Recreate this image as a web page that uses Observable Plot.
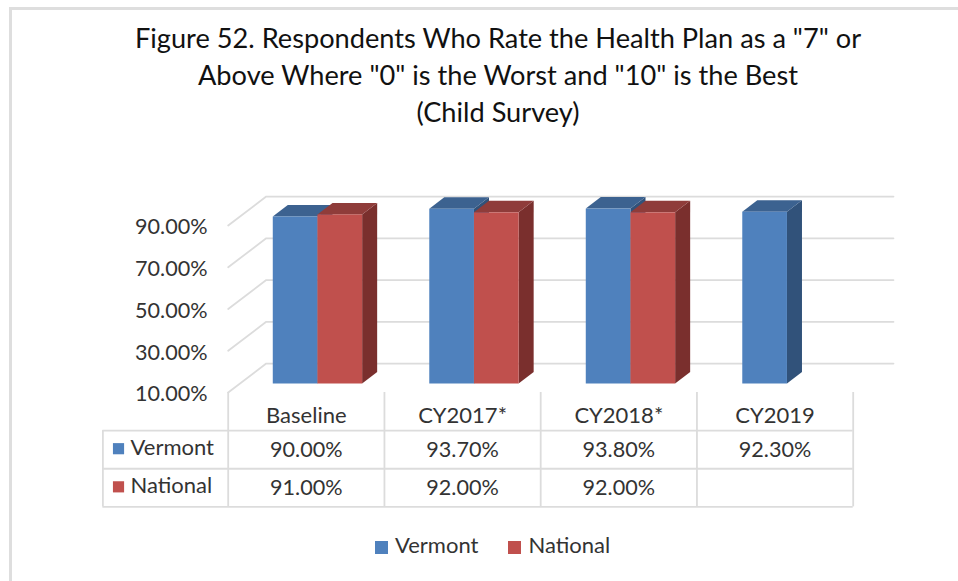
<!DOCTYPE html>
<html><head><meta charset="utf-8">
<script src="https://cdn.jsdelivr.net/npm/d3@7"></script>
<script src="https://cdn.jsdelivr.net/npm/@observablehq/plot@0.6"></script>
<style>
html,body{margin:0;padding:0;background:#fff}
#page{position:relative;width:958px;height:581px;overflow:hidden;font-family:Lato,sans-serif;color:#1f1f1f}
#frame{position:absolute;left:9px;top:7px;width:960px;height:600px;border:3px solid #dedede;box-sizing:border-box}
#title{position:absolute;left:0;top:19px;width:996px;text-align:center;font-size:27.2px;line-height:37px;color:#111}
#chart{position:absolute;left:0;top:185px}
#table{position:absolute;left:0;top:392px}
#legend{position:absolute;left:375px;top:532px;font-size:22px;line-height:26px;color:#333;white-space:nowrap}
#legend i{display:inline-block;width:13px;height:13px;margin-right:7px;vertical-align:-1px}
#legend span{margin-right:30px}
svg{display:block;background:transparent}
</style></head><body>
<div id="page">
<div id="frame"></div>
<div id="title">Figure 52. Respondents Who Rate the Health Plan as a "7" or<br>Above Where "0" is the Worst and "10" is the Best<br>(Child Survey)</div>
<div id="chart"></div>
<div id="table"></div>
<div id="legend"><span><i style="background:#4f81bd"></i>Vermont</span><span><i style="background:#c0504d"></i>National</span></div>
</div>
<script>
const categories = ["Baseline","CY2017*","CY2018*","CY2019"];
const vermont = [90.0,93.7,93.8,92.3];
const national = [91.0,92.0,92.0,null];
const yTicks = [10,30,50,70,90];
const pct = v => v.toFixed(2)+"%";
const seriesList = [
  {name:"Vermont", values:vermont, offset:0.288, front:"#4f81bd", top:"#3c6290", side:"#31527a"},
  {name:"National", values:national, offset:0.5735, front:"#c0504d", top:"#8f3c3a", side:"#7a2f2d"}
];
const barW=0.2855, depthX=0.096, depthY=5.5;
const wallX=0.243, wallY=9.8, frontY=-4.07, wallEnd=4.251;

const grid = yTicks.flatMap(v=>[
  {v,x:0,y:v+frontY},{v,x:wallX,y:v+wallY},{v,x:wallEnd,y:v+wallY}
]);
const bars = seriesList.flatMap(s=>s.values.map((v,i)=>({s,i,v,x1:i+s.offset,x2:i+s.offset+barW})).filter(d=>d.v!=null));
const marks=[Plot.line(grid,{x:"x",y:"y",z:"v",stroke:"#dcdcdc",strokeWidth:1.8})];
for(const b of bars){
  const side=[{x:b.x2,y1:10,y2:b.v},{x:b.x2+depthX,y1:10+depthY,y2:b.v+depthY}];
  const top=[{x:b.x1,y1:b.v,y2:b.v},{x:b.x1+depthX,y1:b.v,y2:b.v+depthY},{x:b.x2,y1:b.v,y2:b.v+depthY},{x:b.x2+depthX,y1:b.v+depthY,y2:b.v+depthY}];
  marks.push(
    Plot.areaY(side,{x:"x",y1:"y1",y2:"y2",fill:b.s.side}),
    Plot.areaY(top,{x:"x",y1:"y1",y2:"y2",fill:b.s.top}),
    Plot.rect([b],{x1:"x1",x2:"x2",y1:()=>10,y2:"v",fill:b.s.front})
  );
}
marks.push(Plot.axisY(yTicks,{anchor:"left",x:-0.132,tickSize:0,tickPadding:0,dy:10.5,tickFormat:pct,label:null,fontSize:21.6,fontFamily:"Lato, sans-serif",fill:"#333",textAnchor:"end"}));
const chart=Plot.plot({width:958,height:207,margin:0,
  style:{background:"transparent",overflow:"visible"},
  x:{domain:[0,4],range:[227.7,853.7],axis:null},
  y:{domain:[10,90],range:[198.5,31.5],axis:null},
  marks});
document.getElementById("chart").append(chart);

// data table under the plot: column index across, row index down
const cells=[];
categories.forEach((c,i)=>{
  cells.push({x:i+0.5,r:0,t:c});
  seriesList.forEach((s,k)=>{ if(s.values[i]!=null) cells.push({x:i+0.5,r:k+1,t:pct(s.values[i])}); });
});
const stubX=-0.802;
const gridColor="#dcdcdc";
const table=Plot.plot({width:958,height:116,margin:0,
  style:{background:"transparent",overflow:"visible"},
  x:{domain:[0,4],range:[227.7,852.7],axis:null},
  y:{domain:[0,3],range:[0,114.4],axis:null},
  marks:[
    Plot.ruleX([0,1,2,3,4],{y1:0,y2:3,stroke:gridColor,strokeWidth:1.8}),
    Plot.ruleX([stubX],{y1:1,y2:3,stroke:gridColor,strokeWidth:1.8}),
    Plot.ruleY([1,2,3],{x1:stubX,x2:4,stroke:gridColor,strokeWidth:1.8}),
    Plot.text(cells.filter(d=>d.r===0),{x:"x",y:d=>d.r+0.5,text:"t",fontSize:22,fontFamily:"Lato, sans-serif",fill:"#333",dy:4}),
    Plot.text(cells.filter(d=>d.r>0),{x:"x",y:d=>d.r+0.5,text:"t",fontSize:21.6,fontFamily:"Lato, sans-serif",fill:"#333"}),
    Plot.dot(seriesList,{x:stubX+0.10,y:(d,i)=>i+1.5,symbol:"square",r:6.3,fill:"front",dy:-1}),
    Plot.text(seriesList,{x:stubX+0.177,y:(d,i)=>i+1.5,text:"name",textAnchor:"start",fontSize:22,fontFamily:"Lato, sans-serif",fill:"#333",dy:-2})
  ]});
document.getElementById("table").append(table);
</script>
</body></html>
